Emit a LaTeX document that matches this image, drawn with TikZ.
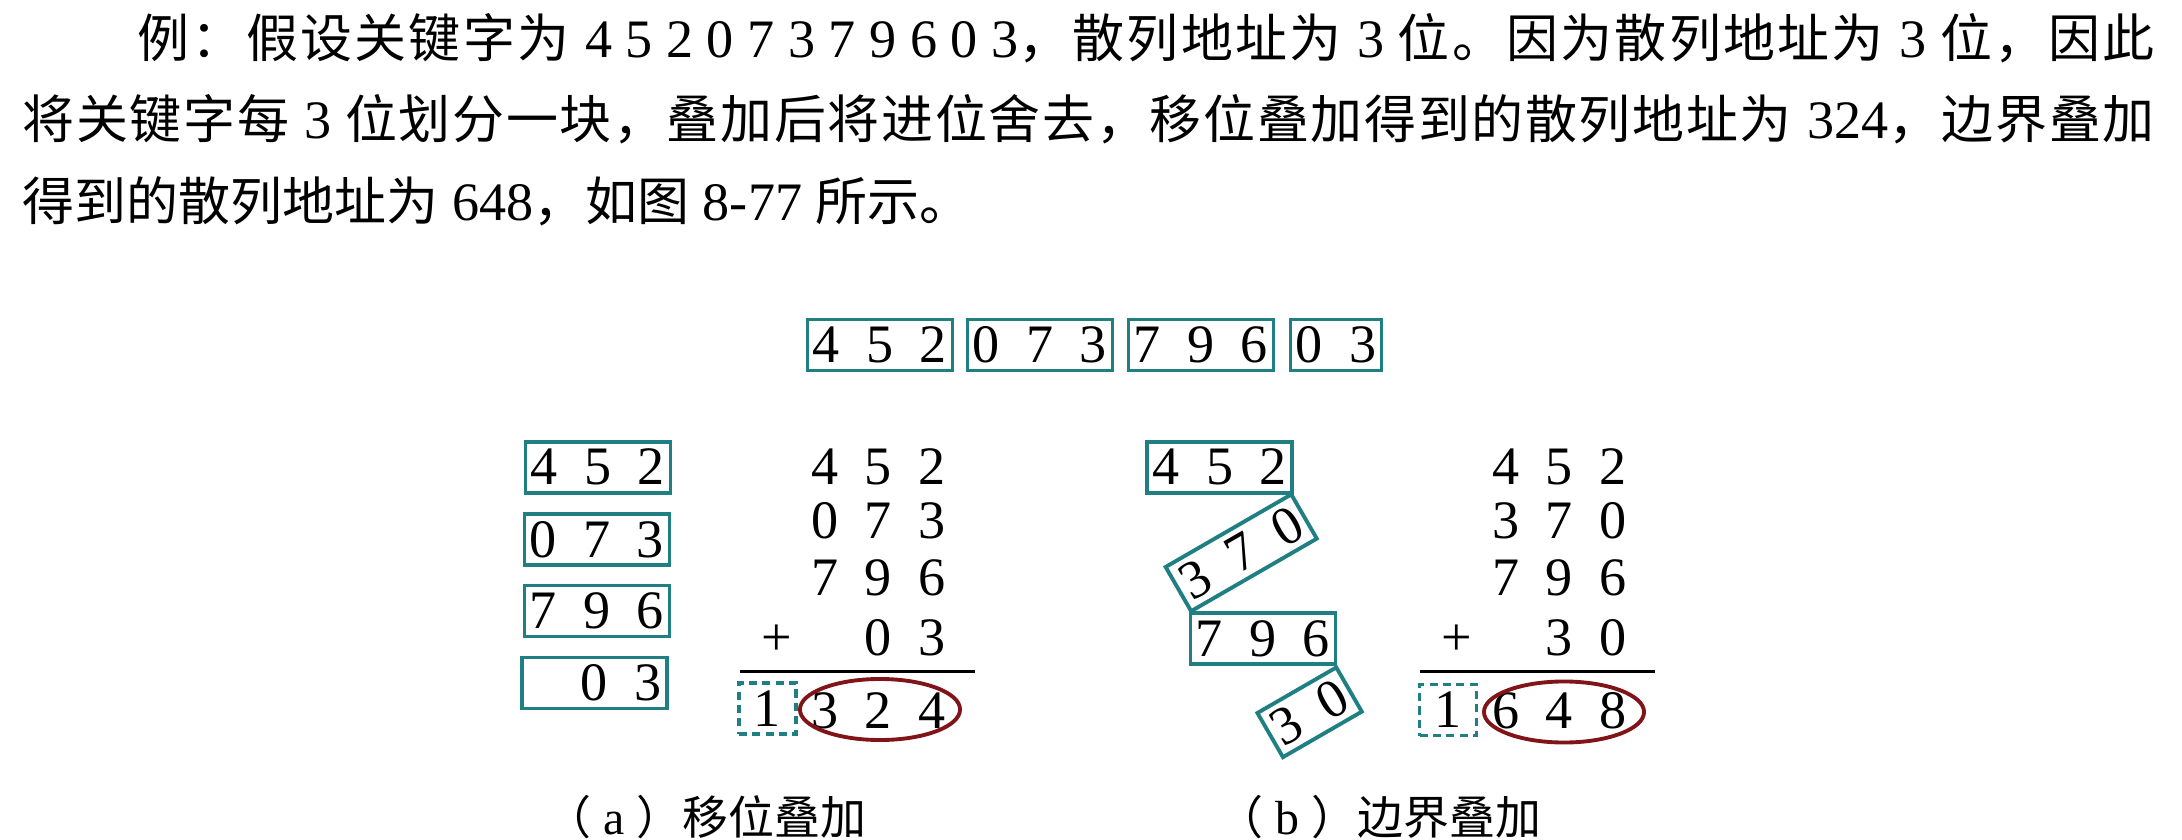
\documentclass[tikz,border=0pt]{standalone}
\usepackage{fontspec}
\setmainfont{Liberation Serif}
\newfontfamily\cjk{Noto Sans CJK SC}[Scale=0.96]
\usetikzlibrary{shapes.geometric}
\definecolor{boxteal}{RGB}{31,127,130}
\definecolor{ovalred}{RGB}{128,20,24}
\newcommand\digs[3]{\makebox[0pt]{#1}\hspace{0.535cm}\makebox[0pt]{#2}\hspace{0.535cm}\makebox[0pt]{#3}}
\newcommand\digtwo[2]{\makebox[0pt]{#1}\hspace{0.535cm}\makebox[0pt]{#2}}
\makeatletter
\def\cj#1{{\cjk\cj@loop#1\relax}}
\def\cj@loop#1{\ifx\relax#1\else#1\hskip 0pt plus 1fil\relax\expandafter\cj@loop\fi}
\makeatother
\tikzset{
  numfont/.style={font=\fontsize{15.4pt}{18pt}\selectfont},
  numbox/.style={draw=boxteal, line width=1.1pt, minimum width=1.45cm, minimum height=0.51cm, inner sep=0pt, numfont},
  numboxs/.style={numbox, minimum width=0.91cm},
  sumrow/.style={anchor=base, inner sep=0pt, numfont},
  carry/.style={draw=boxteal, dash pattern=on 2.3pt off 1.5pt, line width=1.1pt, minimum width=0.57cm, minimum height=0.51cm, inner sep=0pt, numfont},
  oval/.style={draw=ovalred, line width=1.1pt, ellipse, minimum width=1.6cm, minimum height=0.61cm, inner sep=0pt},
  rule/.style={line width=1pt},
  textline/.style={anchor=base west, inner sep=0pt, font=\fontsize{15.4pt}{18pt}\selectfont},
  caption/.style={anchor=base west, inner sep=0pt, font=\fontsize{13.6pt}{16pt}\selectfont},
}
\begin{document}
\begin{tikzpicture}[x=0.01cm, y=-0.01cm]
\useasboundingbox (0,0) rectangle (2182,840);

% paragraph
\node[textline] (t1) at (137,58) {\hbox to 20.16cm{\cj{例：假设关键字为} 4 5 2 0 7 3 7 9 6 0 3\cj{，散列地址为} 3 \cj{位。因为散列地址为} 3 \cj{位，因此}\unskip}};
\node[textline] (t2) at (22,139) {\hbox to 21.31cm{\cj{将关键字每} 3 \cj{位划分一块，叠加后将进位舍去，移位叠加得到的散列地址为} 324\cj{，边界叠加}\unskip}};
\node[textline] (t3) at (22,221) {\cj{得到的散列地址为} 648\cj{，如图} 8-77 \cj{所示。}};

% key split into blocks
\node[numbox] (k1) at (880,345) {\digs{4}{5}{2}};
\node[numbox] (k2) at (1040,345) {\digs{0}{7}{3}};
\node[numbox] (k3) at (1201,345) {\digs{7}{9}{6}};
\node[numboxs] (k4) at (1336,345) {\digtwo{0}{3}};

% (a) shift folding
\node[numbox] (s1) at (598,467.3) {\digs{4}{5}{2}};
\node[numbox] (s2) at (597,539.3) {\digs{0}{7}{3}};
\node[numbox] (s3) at (597,611) {\digs{7}{9}{6}};
\node[numbox] (s4) at (594.5,683) {\digs{}{0}{3}};

\node[sumrow] (ar1) at (878.5,485) {\digs{4}{5}{2}};
\node[sumrow] (ar2) at (878.5,538.5) {\digs{0}{7}{3}};
\node[sumrow] (ar3) at (878.5,595) {\digs{7}{9}{6}};
\node[sumrow] (ar4) at (878.5,655) {\digs{}{0}{3}};
\node[sumrow] (aplus) at (777,655) {+};
\coordinate (al1) at (740,671.7);
\coordinate (al2) at (975,671.7);
\draw[rule] (al1) -- (al2);
\node[carry] (ac) at (767.5,708.5) {1};
\node[sumrow] (ares) at (878.5,728) {\digs{3}{2}{4}};
\node[oval] (ao) at (880,709.5) {};

% (b) boundary folding
\node[numbox] (b1) at (1219.7,467.3) {\digs{4}{5}{2}};
\node[numbox, rotate=30] (b2) at (1241.2,552.8) {\digs{3}{7}{0}};
\node[numbox] (b3) at (1263,638.7) {\digs{7}{9}{6}};
\node[numboxs, rotate=30] (b4) at (1309.6,712.3) {\digtwo{3}{0}};

\node[sumrow] (br1) at (1559.5,485) {\digs{4}{5}{2}};
\node[sumrow] (br2) at (1559.5,538.5) {\digs{3}{7}{0}};
\node[sumrow] (br3) at (1559.5,595) {\digs{7}{9}{6}};
\node[sumrow] (br4) at (1559.5,655) {\digs{}{3}{0}};
\node[sumrow] (bplus) at (1457,655) {+};
\coordinate (bl1) at (1420,671.7);
\coordinate (bl2) at (1655,671.7);
\draw[rule] (bl1) -- (bl2);
\node[carry] (bc) at (1448,710) {1};
\node[sumrow] (bres) at (1559.5,728) {\digs{6}{4}{8}};
\node[oval] (bo) at (1564,712) {};

% captions
\node[caption] (capa) at (545,834) {\cj{（} a \cj{）移位叠加}};
\node[caption] (capb) at (1217,834) {\cj{（} b \cj{）边界叠加}};
\end{tikzpicture}
\end{document}
